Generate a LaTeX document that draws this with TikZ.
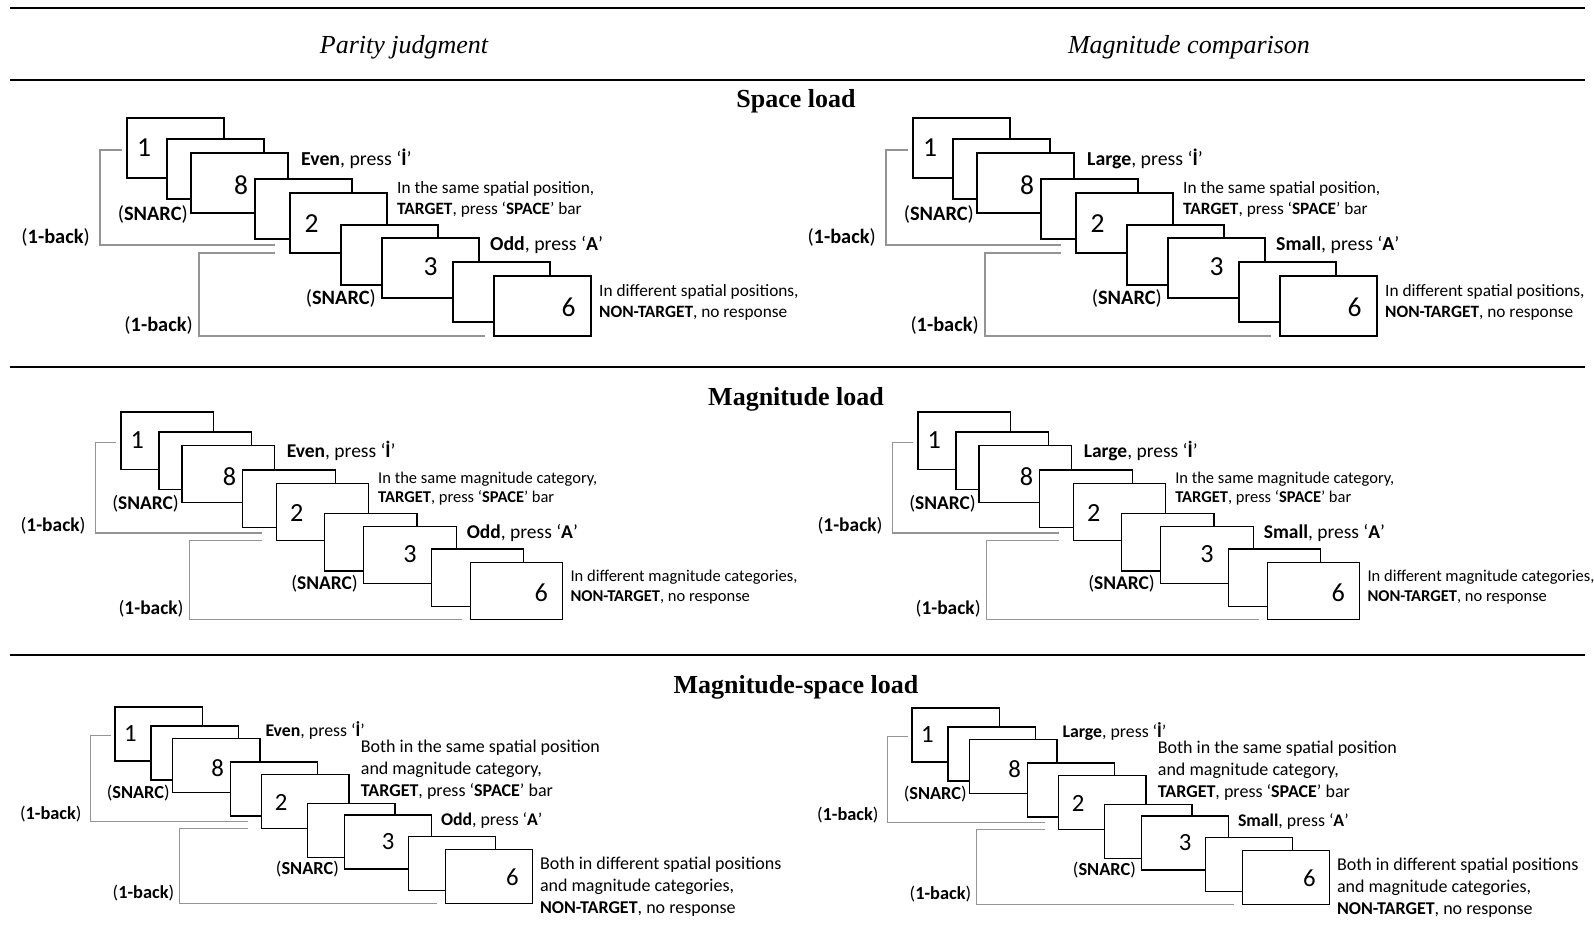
\documentclass[tikz,border=0pt]{standalone}
\usepackage{fontspec}
\setmainfont{Carlito}
\newfontfamily\headfont{Liberation Serif}
\usepackage{tikz}
\usetikzlibrary{positioning}

\tikzset{
  card/.style={draw=black,fill=white,line width=1.2pt},
  backline/.style={draw=black!42,line width=1.2pt},
  cue/.style={anchor=west,inner sep=0pt,font=\fontsize{19.8}{22}\selectfont},
  note/.style={anchor=west,inner sep=0pt,align=left,font=\fontsize{17.3}{21}\selectfont},
  rule/.style={line width=1.3pt},
  heading/.style={inner sep=0pt,font=\headfont\bfseries\fontsize{26}{30}\selectfont},
  task/.style={inner sep=0pt,font=\headfont\itshape\fontsize{26}{30}\selectfont}
}

% one stack of nine cards with its (SNARC) and (1-back) marks
\newcommand{\cardstack}[2]{%
  \pgfmathsetmacro{\tagsz}{20.4*#2}%
  \pgfmathsetmacro{\digsz}{27.5*#2}%
  \draw[backline] (-5,32) -- (-27,32) -- (-27,127) -- (148,127);
  \draw[backline] (148,135) -- (72,135) -- (72,218) -- (358,218);
  \foreach \n/\cx/\cy in {1/0/0,2/40/21,3/64/35,4/128/61,5/163/75,6/214/107,7/255/120,8/326/144,9/367/158}
    \draw[card] (\cx,\cy) coordinate (#1c\n) rectangle ++(97,60);
  \foreach \d/\dx/\dy in {1/17/30,8/114/67.5,2/184.5/106,3/303.5/149,6/441.5/189.5}
    \node[inner sep=0pt,font=\fontsize{\digsz}{\digsz}\selectfont] (#1d\d) at (\dx,\dy) {\d};
  \node[anchor=east,inner sep=0pt,font=\fontsize{\tagsz}{\tagsz}\selectfont] (#1snarcA) at (61,96) {(\textbf{SNARC})};
  \node[anchor=east,inner sep=0pt,font=\fontsize{\tagsz}{\tagsz}\selectfont] (#1snarcB) at (249,180) {(\textbf{SNARC})};
  \node[anchor=east,inner sep=0pt,font=\fontsize{\tagsz}{\tagsz}\selectfont] (#1backA) at (-37,119) {(\textbf{1-back})};
  \node[anchor=east,inner sep=0pt,font=\fontsize{\tagsz}{\tagsz}\selectfont] (#1backB) at (66,207) {(\textbf{1-back})};
}

\begin{document}
\begin{tikzpicture}[x=1pt,y=-1pt]
  \fill[white] (0,0) rectangle (1594,939);
  \useasboundingbox (0,0) rectangle (1594,939);

  % header
  \draw[rule,line width=1.8pt] (10,8) -- (1585,8);
  \node[task] (parity) at (404,47) {Parity judgment};
  \node[task] (magcomp) at (1189,47) {Magnitude comparison};
  \draw[rule,line width=1.8pt] (10,80) -- (1585,80);

  % space load
  \node[heading] (spacehd) at (796,101) {Space load};
  \begin{scope}[shift={(127,118)}]
    \cardstack{L1}{1}
    \node[cue] (L1even) at (174,41) {\textbf{Even}, press ‘\textbf{İ}’};
    \node[note] (L1same) at (270,81) {In the same spatial position,\\\textbf{TARGET}, press ‘\textbf{SPACE}’ bar};
    \node[cue] (L1odd) at (363,127) {\textbf{Odd}, press ‘\textbf{A}’};
    \node[note] (L1diff) at (472,184) {In different spatial positions,\\\textbf{NON-TARGET}, no response};
  \end{scope}
  \begin{scope}[shift={(913,118)}]
    \cardstack{R1}{1}
    \node[cue] (R1large) at (174,41) {\textbf{Large}, press ‘\textbf{İ}’};
    \node[note] (R1same) at (270,81) {In the same spatial position,\\\textbf{TARGET}, press ‘\textbf{SPACE}’ bar};
    \node[cue] (R1small) at (363,127) {\textbf{Small}, press ‘\textbf{A}’};
    \node[note] (R1diff) at (472,184) {In different spatial positions,\\\textbf{NON-TARGET}, no response};
  \end{scope}
  \draw[rule] (10,367) -- (1585,367);

  % magnitude load
  \node[heading] (maghd) at (796,399) {Magnitude load};
  \begin{scope}[shift={(121,412)},scale=0.952]
    \cardstack{L2}{0.952}
    \node[cue,font=\fontsize{19.5}{22}\selectfont] (L2even) at (174,41) {\textbf{Even}, press ‘\textbf{İ}’};
    \node[note,font=\fontsize{16.5}{19.5}\selectfont] (L2same) at (270,80.5) {In the same magnitude category,\\\textbf{TARGET}, press ‘\textbf{SPACE}’ bar};
    \node[cue,font=\fontsize{19.5}{22}\selectfont] (L2odd) at (363,127) {\textbf{Odd}, press ‘\textbf{A}’};
    \node[note,font=\fontsize{16.5}{19.5}\selectfont] (L2diff) at (472,184) {In different magnitude categories,\\\textbf{NON-TARGET}, no response};
  \end{scope}
  \begin{scope}[shift={(918,412)},scale=0.952]
    \cardstack{R2}{0.952}
    \node[cue,font=\fontsize{19.5}{22}\selectfont] (R2large) at (174,41) {\textbf{Large}, press ‘\textbf{İ}’};
    \node[note,font=\fontsize{16.5}{19.5}\selectfont] (R2same) at (270,80.5) {In the same magnitude category,\\\textbf{TARGET}, press ‘\textbf{SPACE}’ bar};
    \node[cue,font=\fontsize{19.5}{22}\selectfont] (R2small) at (363,127) {\textbf{Small}, press ‘\textbf{A}’};
    \node[note,font=\fontsize{16.5}{19.5}\selectfont] (R2diff) at (472,184) {In different magnitude categories,\\\textbf{NON-TARGET}, no response};
  \end{scope}
  \draw[rule] (10,655) -- (1585,655);

  % magnitude-space load
  \node[heading] (mshd) at (796,687) {Magnitude-space load};
  \begin{scope}[shift={(115,707)},scale=0.9]
    \cardstack{L3}{0.9}
    \node[cue,font=\fontsize{17.8}{20}\selectfont] (L3even) at (167,26) {\textbf{Even}, press ‘\textbf{İ}’};
    \node[note,font=\fontsize{18}{22}\selectfont] (L3same) at (273,70) {Both in the same spatial position\\and magnitude category,\\\textbf{TARGET}, press ‘\textbf{SPACE}’ bar};
    \node[cue,font=\fontsize{17.8}{20}\selectfont] (L3odd) at (362,126) {\textbf{Odd}, press ‘\textbf{A}’};
    \node[note,font=\fontsize{18}{22}\selectfont] (L3diff) at (472,200) {Both in different spatial positions\\and magnitude categories,\\\textbf{NON-TARGET}, no response};
  \end{scope}
  \begin{scope}[shift={(912,708)},scale=0.9]
    \cardstack{R3}{0.9}
    \node[cue,font=\fontsize{17.8}{20}\selectfont] (R3large) at (167,26) {\textbf{Large}, press ‘\textbf{İ}’};
    \node[note,font=\fontsize{18}{22}\selectfont] (R3same) at (273,70) {Both in the same spatial position\\and magnitude category,\\\textbf{TARGET}, press ‘\textbf{SPACE}’ bar};
    \node[cue,font=\fontsize{17.8}{20}\selectfont] (R3small) at (362,126) {\textbf{Small}, press ‘\textbf{A}’};
    \node[note,font=\fontsize{18}{22}\selectfont] (R3diff) at (472,200) {Both in different spatial positions\\and magnitude categories,\\\textbf{NON-TARGET}, no response};
  \end{scope}
\end{tikzpicture}
\end{document}
